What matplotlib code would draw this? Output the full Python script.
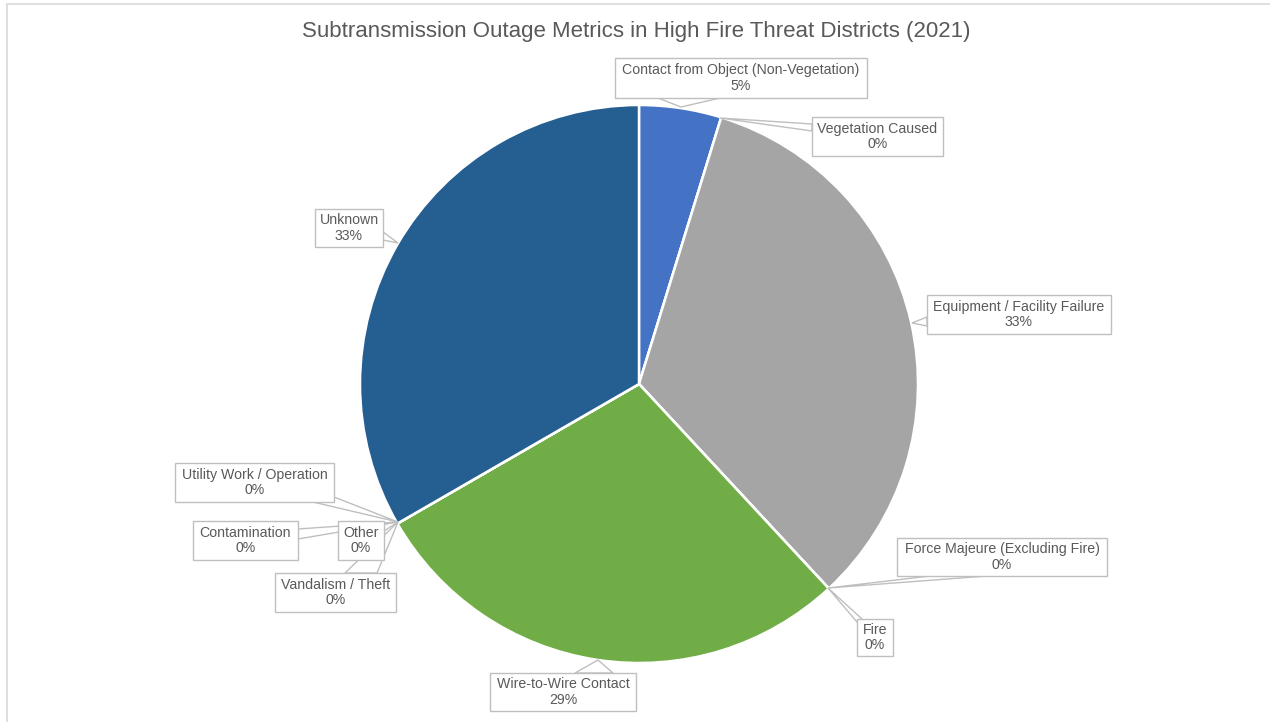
import matplotlib
matplotlib.use("Agg")
import matplotlib.pyplot as plt
from matplotlib.patches import Polygon, Rectangle

# ---------------- data ----------------
categories = [
    "Contact from Object (Non-Vegetation)",
    "Vegetation Caused",
    "Equipment / Facility Failure",
    "Force Majeure (Excluding Fire)",
    "Fire",
    "Wire-to-Wire Contact",
    "Vandalism / Theft",
    "Other",
    "Contamination",
    "Utility Work / Operation",
    "Unknown",
]
values = [1, 0, 7, 0, 0, 6, 0, 0, 0, 0, 7]
colors = ["#4472C4", "#ED7D31", "#A5A5A5", "#FFC000", "#5B9BD5",
          "#70AD47", "#264478", "#9E480E", "#636363", "#997300", "#255E91"]
title = "Subtransmission Outage Metrics in High Fire Threat Districts (2021)"

# ---------------- layout (pixel coords, y from top) ----------------
W, H = 1270, 722
CX, CY, R = 639, 384, 279
# box (x0, y0, x1, y1), tip, base1, base2
callouts = [
    ((615, 58, 867, 98), (681, 107), (658, 98), (720, 98)),
    ((812, 117, 943, 156), (720, 118), (812, 124), (812, 131)),
    ((927, 295, 1111, 334), (912, 323), (927, 317), (927, 326)),
    ((897, 538, 1107, 576), (828, 588), (930, 576), (987, 576)),
    ((857, 619, 893, 656), (828, 588), (857, 622), (862, 619)),
    ((490, 673, 636, 711), (598, 660), (575, 673), (613, 673)),
    ((275, 573, 396, 612), (398, 522), (345, 573), (377, 573)),
    ((338, 521, 384, 560), (398, 522), (384, 523), (384, 531)),
    ((193, 521, 298, 560), (398, 522), (298, 529), (298, 539)),
    ((175, 463, 334, 502), (398, 522), (313, 502), (334, 497)),
    ((315, 209, 383, 247), (398, 243), (383, 232), (383, 240)),
]

def Y(y):
    return H - y

fig = plt.figure(figsize=(W / 100, H / 100), dpi=100)
ax = fig.add_axes([0, 0, 1, 1])

ax.pie(values, colors=colors, startangle=90, counterclock=False,
       center=(CX, Y(CY)), radius=R,
       wedgeprops=dict(edgecolor="white", linewidth=1.8))
ax.set_xlim(0, W)
ax.set_ylim(0, H)
ax.set_aspect("equal")
ax.axis("off")

total = sum(values)
edge = "#BFBFBF"
txtc = "#595959"
font = ["Liberation Sans", "DejaVu Sans"]

for name, v, (box, tip, b1, b2) in zip(categories, values, callouts):
    x0, y0, x1, y1 = box
    ax.add_patch(Polygon([(b1[0], Y(b1[1])), (tip[0], Y(tip[1])), (b2[0], Y(b2[1]))],
                         closed=True, facecolor="white", edgecolor=edge,
                         linewidth=1.0, zorder=3))
    ax.add_patch(Rectangle((x0, Y(y1)), x1 - x0, y1 - y0, facecolor="white",
                           edgecolor=edge, linewidth=1.0, zorder=4))
    pct = f"{round(100 * v / total)}%"
    ax.text((x0 + x1) / 2, Y((y0 + y1) / 2), f"{name}\n{pct}", ha="center",
            va="center", fontsize=10.2, color=txtc, family=font,
            linespacing=1.15, zorder=5)

ax.text(W / 2 + 1, Y(31), title, ha="center", va="center", fontsize=16,
        color=txtc, family=font)

# chart-area border
ax.plot([6.5, 6.5, W], [0, Y(3.5), Y(3.5)], color="#D9D9D9", linewidth=1.2,
        solid_joinstyle="miter")

fig.savefig("out.png", dpi=100)
